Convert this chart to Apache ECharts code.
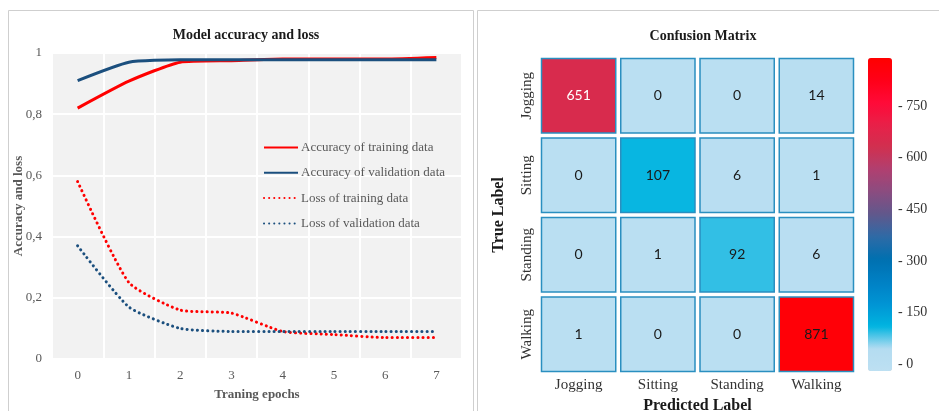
<!DOCTYPE html>
<html><head><meta charset="utf-8">
<script src="https://cdn.jsdelivr.net/npm/echarts@6/dist/echarts.min.js"></script>
<style>html,body{margin:0;padding:0;background:#fff}#c{width:939px;height:411px}</style>
</head><body><div id="c"></div>
<script>
// ---- data ----
const epochs = ['0','1','2','3','4','5','6','7'];
const accTrain = [0.82, 0.908, 0.97, 0.975, 0.98, 0.98, 0.98, 0.985];
const accVal   = [0.91, 0.97, 0.978, 0.978, 0.978, 0.978, 0.978, 0.978];
const lossTrain = [0.58, 0.25, 0.16, 0.15, 0.09, 0.08, 0.07, 0.07];
const lossVal   = [0.37, 0.17, 0.10, 0.09, 0.09, 0.09, 0.09, 0.09];
const classes = ['Jogging', 'Sitting', 'Standing', 'Walking'];
const confusion = [
  [651, 0, 0, 14],
  [0, 107, 6, 1],
  [0, 1, 92, 6],
  [1, 0, 0, 871]
];
const colorbarTicks = [0, 150, 300, 450, 600, 750];

// ---- build ----
const serif = '"Liberation Serif", "Times New Roman", serif';
const heatData = [];
confusion.forEach((row, r) => row.forEach((v, c) => heatData.push([c, r, v])));

const chart = echarts.init(document.getElementById('c'), null, {renderer: 'canvas'});
const RED = '#ff0000', BLUE = '#1b4f7e';
const dotted = {type: [0.1, 5], cap: 'round', width: 3};
const SM = 0.18;

chart.setOption({
  animation: false,
  backgroundColor: '#ffffff',
  title: [
    {text: 'Model accuracy and loss', left: 241, top: 23, textAlign: 'center',
     textStyle: {fontFamily: serif, fontSize: 14, fontWeight: 'bold', color: '#1a1a1a'}},
    {text: 'Confusion Matrix', left: 698, top: 24, textAlign: 'center',
     textStyle: {fontFamily: serif, fontSize: 14, fontWeight: 'bold', color: '#1a1a1a'}}
  ],
  graphic: [
    {type: 'rect', shape: {x: 8.5, y: 10.5, width: 465, height: 420}, style: {fill: 'none', stroke: '#cfcfcf', lineWidth: 1}, silent: true, z: -1},
    {type: 'rect', shape: {x: 477.5, y: 10.5, width: 480, height: 420}, style: {fill: 'none', stroke: '#cfcfcf', lineWidth: 1}, silent: true, z: -1}
  ],
  legend: {
    orient: 'vertical', left: 263, top: 141, itemWidth: 34, itemHeight: 14, itemGap: 12.3,
    padding: 0, itemStyle: {opacity: 0},
    textStyle: {fontFamily: serif, fontSize: 13, color: '#595959', padding: [0, 0, 0, -2]},
    data: ['Accuracy of training data', 'Accuracy of validation data', 'Loss of training data', 'Loss of validation data']
  },
  grid: [
    {left: 52, top: 53, width: 410, height: 306, show: true, backgroundColor: '#f2f2f2', borderColor: '#d9d9d9', borderWidth: 1, outerBoundsMode: 'none', containLabel: false},
    {left: 539, top: 56, width: 317, height: 318, outerBoundsMode: 'none', containLabel: false},
    {left: 868, top: 58, width: 24, height: 313, outerBoundsMode: 'none', containLabel: false}
  ],
  xAxis: [
    {gridIndex: 0, type: 'category', data: epochs, boundaryGap: true,
     axisLine: {show: false}, axisTick: {show: false},
     splitLine: {show: true, lineStyle: {color: '#ffffff', width: 2}},
     axisLabel: {fontFamily: serif, fontSize: 13, color: '#595959', margin: 10},
     name: 'Traning epochs', nameLocation: 'middle', nameGap: 29,
     nameTextStyle: {fontFamily: serif, fontSize: 13, fontWeight: 'bold', color: '#595959'}},
    {gridIndex: 1, type: 'category', data: classes,
     axisLine: {show: false}, axisTick: {show: false}, splitLine: {show: false},
     axisLabel: {fontFamily: serif, fontSize: 15, color: '#333', margin: 4},
     name: 'Predicted Label', nameLocation: 'middle', nameGap: 23,
     nameTextStyle: {fontFamily: serif, fontSize: 16, fontWeight: 'bold', color: '#1a1a1a'}},
    {gridIndex: 2, type: 'value', show: false}
  ],
  yAxis: [
    {gridIndex: 0, type: 'value', min: 0, max: 1, interval: 0.2,
     axisLine: {show: false}, axisTick: {show: false},
     splitLine: {show: true, lineStyle: {color: '#ffffff', width: 2}},
     axisLabel: {fontFamily: serif, fontSize: 13, color: '#595959', margin: 10,
       formatter: v => String(Math.round(v * 10) / 10).replace('.', ',')},
     name: 'Accuracy and loss', nameLocation: 'middle', nameGap: 27, nameRotate: 90, nameMoveOverlap: false,
     nameTextStyle: {fontFamily: serif, fontSize: 13, fontWeight: 'bold', color: '#595959'}},
    {gridIndex: 1, type: 'category', data: classes, inverse: true,
     axisLine: {show: false}, axisTick: {show: false}, splitLine: {show: false},
     axisLabel: {fontFamily: serif, fontSize: 15, color: '#333', rotate: 90, margin: 4, align: 'center'},
     name: 'True Label', nameLocation: 'middle', nameGap: 32, nameRotate: 90,
     nameTextStyle: {fontFamily: serif, fontSize: 16, fontWeight: 'bold', color: '#1a1a1a'}},
    {gridIndex: 2, type: 'value', position: 'right', min: -20, max: 890,
     axisLine: {show: false}, axisTick: {show: false}, splitLine: {show: false},
     axisLabel: {show: true, customValues: colorbarTicks, formatter: v => '- ' + v,
       fontFamily: serif, fontSize: 14, color: '#333', margin: 6}}
  ],
  visualMap: {
    type: 'continuous', seriesIndex: 4, dimension: 2, min: -20, max: 890,
    left: 868, top: 58, itemWidth: 24, itemHeight: 313, padding: 0,
    calculable: false, text: ['', ''], showLabel: false, hoverLink: false,
    inRange: {color: ['#bde0f2', '#b4dcf1', '#00b4e0', '#0094d4', '#0080c4', '#0070b0', '#2e6aa6',
                      '#60588c', '#8a4c80', '#b04070', '#d03050', '#e82048', '#ff0a38', '#ff0018', '#ff0000']}
  },
  series: [
    {name: 'Accuracy of training data', type: 'line', xAxisIndex: 0, yAxisIndex: 0, data: accTrain,
     smooth: SM, showSymbol: false, symbol: 'none', lineStyle: {color: RED, width: 3}, itemStyle: {color: RED}},
    {name: 'Accuracy of validation data', type: 'line', xAxisIndex: 0, yAxisIndex: 0, data: accVal,
     smooth: SM, showSymbol: false, symbol: 'none', lineStyle: {color: BLUE, width: 3}, itemStyle: {color: BLUE}},
    {name: 'Loss of training data', type: 'line', xAxisIndex: 0, yAxisIndex: 0, data: lossTrain,
     smooth: SM, showSymbol: false, symbol: 'none', lineStyle: Object.assign({color: RED}, dotted), itemStyle: {color: RED}},
    {name: 'Loss of validation data', type: 'line', xAxisIndex: 0, yAxisIndex: 0, data: lossVal,
     smooth: SM, showSymbol: false, symbol: 'none', lineStyle: Object.assign({color: BLUE}, dotted), itemStyle: {color: BLUE}},
    {name: 'confusion', type: 'custom', xAxisIndex: 1, yAxisIndex: 1, data: heatData,
     encode: {x: 0, y: 1},
     renderItem: function (params, api) {
       const v = api.value(2);
       const c = api.coord([api.value(0), api.value(1)]);
       const s = api.size([1, 1]);
       const w = s[0] - 5, h = s[1] - 5;
       const light = v > 400 && v < 800;
       return {
         type: 'group',
         children: [
           {type: 'rect', shape: {x: c[0] - w / 2, y: c[1] - h / 2, width: w, height: h},
            style: {fill: api.visual('color'), stroke: '#2a8fc0', lineWidth: 1.5}},
           {type: 'text', style: {text: String(v), x: c[0], y: c[1], align: 'center', verticalAlign: 'middle',
             fill: light ? '#ffffff' : '#1a1a1a', font: '14px Lato, "Noto Sans", sans-serif'}}
         ]
       };
     }}
  ]
});
</script></body></html>
